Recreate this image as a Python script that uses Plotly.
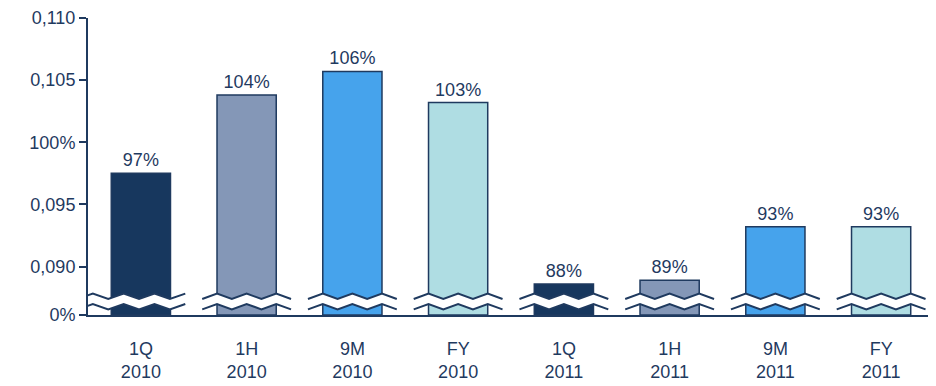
import plotly.graph_objects as go

# data
periods = ["1Q<br>2010", "1H<br>2010", "9M<br>2010", "FY<br>2010",
           "1Q<br>2011", "1H<br>2011", "9M<br>2011", "FY<br>2011"]
values = [0.0975, 0.1038, 0.1057, 0.1032, 0.0886, 0.0889, 0.0932, 0.0932]
labels = ["97%", "104%", "106%", "103%", "88%", "89%", "93%", "93%"]
bar_colors = ["#17375E", "#8497B7", "#46A3EC", "#AFDDE3"] * 2

y_ticks = [0.0861, 0.090, 0.095, 0.100, 0.105, 0.110]
y_ticktext = ["0%", "0,090", "0,095", "100%", "0,105", "0,110"]

NAVY = "#1F3A5F"
FONT = "Liberation Sans, Arial, sans-serif"

fig = go.Figure()

# bars start at the bottom of the (broken) axis
fig.add_trace(go.Bar(
    x=list(range(len(periods))),
    y=[v - y_ticks[0] for v in values],
    base=y_ticks[0],
    text=labels,
    textposition="outside",
    textfont=dict(size=18, color=NAVY, family=FONT),
    cliponaxis=False,
    marker=dict(color=bar_colors, line=dict(color=NAVY, width=1.5)),
    width=0.56,
    hoverinfo="skip",
))


def zigzag(x0, x1, y0, amp, n=6):
    pts = []
    for k in range(n + 1):
        x = x0 + (x1 - x0) * k / n
        y = y0 + (amp if k % 2 else -amp)
        pts.append((x, y))
    return pts


def to_path(pts):
    return "M " + " L ".join(f"{x},{y}" for x, y in pts)


# axis break marks (paper y within plot area)
upper, lower, amp = 0.063, 0.028, 0.009
for i in range(len(periods)):
    x0 = i - 0.42 if i > 0 else -0.6
    x1 = i + 0.42
    n = 6 if i > 0 else 7
    top = zigzag(x0, x1, upper, amp, n)
    bot = zigzag(x0, x1, lower, amp, n)
    band = to_path(top) + " L " + " L ".join(f"{x},{y}" for x, y in bot[::-1]) + " Z"
    fig.add_shape(type="path", path=band, xref="x", yref="paper",
                  fillcolor="white", line=dict(width=0), layer="above")
    for pts in (top, bot):
        fig.add_shape(type="path", path=to_path(pts), xref="x", yref="paper",
                      line=dict(color=NAVY, width=2), layer="above")

# page body has an 8px margin, so the figure is a bit smaller
fig.update_layout(
    width=928, height=378,
    margin=dict(l=80, r=2, t=10, b=71),
    plot_bgcolor="white", paper_bgcolor="white",
    showlegend=False,
    font=dict(family=FONT, size=18, color=NAVY),
)
fig.update_xaxes(
    range=[-0.5, len(periods) - 0.5],
    tickmode="array", tickvals=list(range(len(periods))), ticktext=periods,
    showline=True, linecolor=NAVY, linewidth=2,
    ticks="", showgrid=False, zeroline=False,
    ticklabelstandoff=16, automargin=False,
    tickfont=dict(size=18, color=NAVY, family=FONT),
)
fig.update_yaxes(
    range=[y_ticks[0], y_ticks[-1]],
    tickmode="array", tickvals=y_ticks, ticktext=y_ticktext,
    showline=True, linecolor=NAVY, linewidth=2,
    ticks="outside", ticklen=7, tickwidth=1.5, tickcolor=NAVY,
    showgrid=False, zeroline=False,
    ticklabeloverflow="allow", automargin=False,
    tickfont=dict(size=18, color=NAVY, family=FONT),
)

fig.write_html("out.html")
